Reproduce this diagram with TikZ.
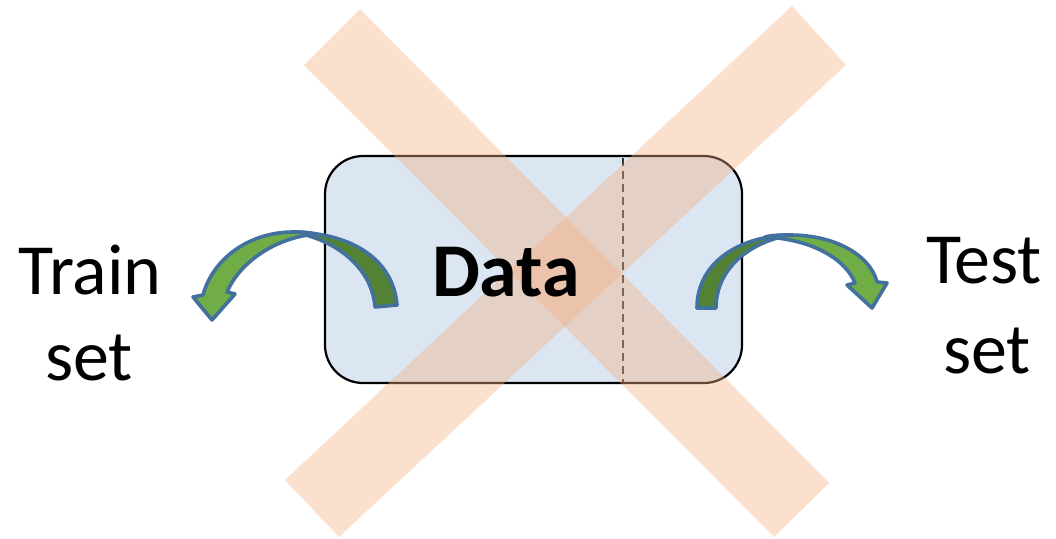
\documentclass[tikz,border=0pt]{standalone}
\usepackage{fontspec}
\setmainfont{Carlito}
\definecolor{boxblue}{RGB}{220,230,242}
\definecolor{bandorange}{RGB}{244,177,131}
\definecolor{arrowdark}{RGB}{84,130,53}
\definecolor{arrowlight}{RGB}{112,173,71}
\definecolor{arrowline}{RGB}{65,113,156}
\tikzset{
  databox/.style={draw=black, line width=2.2pt, fill=boxblue, rounded corners=38pt},
  band/.style={fill=bandorange, fill opacity=0.4, draw=none},
  splitline/.style={draw=black!80, line width=1.5pt, dash pattern=on 8pt off 5pt},
  arrowback/.style={fill=arrowdark, draw=arrowline, line width=3.6pt, line join=round},
  arrowfront/.style={fill=arrowlight, draw=arrowline, line width=3.6pt, line join=round},
  label/.style={font=\fontsize{72}{86}\selectfont, anchor=base, inner sep=0pt},
  datalabel/.style={font=\bfseries\fontsize{76}{90}\selectfont, anchor=base, inner sep=0pt}
}
\begin{document}
\begin{tikzpicture}[x=1pt,y=-1pt]
\useasboundingbox (0,0) rectangle (1056,538);
% data box
\path[databox] (325,156) rectangle (742,383);
\coordinate (splittop) at (623,158);
\coordinate (splitbot) at (623,382);
\draw[splitline] (splittop) -- (splitbot);
% crossing bands
\path[band] (304,65) -- (360,9) -- (829,483) -- (774,537) -- cycle;
\path[band] (792,6) -- (846,65) -- (339,537) -- (285,480) -- cycle;
% text
\node[datalabel] (data) at (506,296) {Data};
\node[label] (train) at (90,294) {Train};
\node[label] (trainset) at (89,380) {set};
\node[label] (test) at (984,283) {Test};
\node[label] (testset) at (987,373) {set};
% left curved arrow
\path[arrowback] (397,305) .. controls (393,258) and (350,233) .. (293,232)
  .. controls (337,240) and (372,268) .. (375,307) -- cycle;
\path[arrowfront] (315,234) .. controls (308,232) and (300,232) .. (293,232)
  .. controls (250,232) and (213,258) .. (203,295) -- (193,297) -- (212,320)
  -- (235,294) -- (227,292) .. controls (240,262) and (275,238) .. (315,234) -- cycle;
% right curved arrow
\path[arrowback] (697,308) .. controls (697,262) and (740,236) .. (790,235)
  .. controls (750,242) and (716,268) .. (716,308) -- cycle;
\path[arrowfront] (765,237) .. controls (772,235) and (781,235) .. (790,235)
  .. controls (835,235) and (870,255) .. (877,282) -- (887,283) -- (872,308)
  -- (847,285) -- (855,283) .. controls (845,258) and (810,239) .. (765,237) -- cycle;
\end{tikzpicture}
\end{document}
